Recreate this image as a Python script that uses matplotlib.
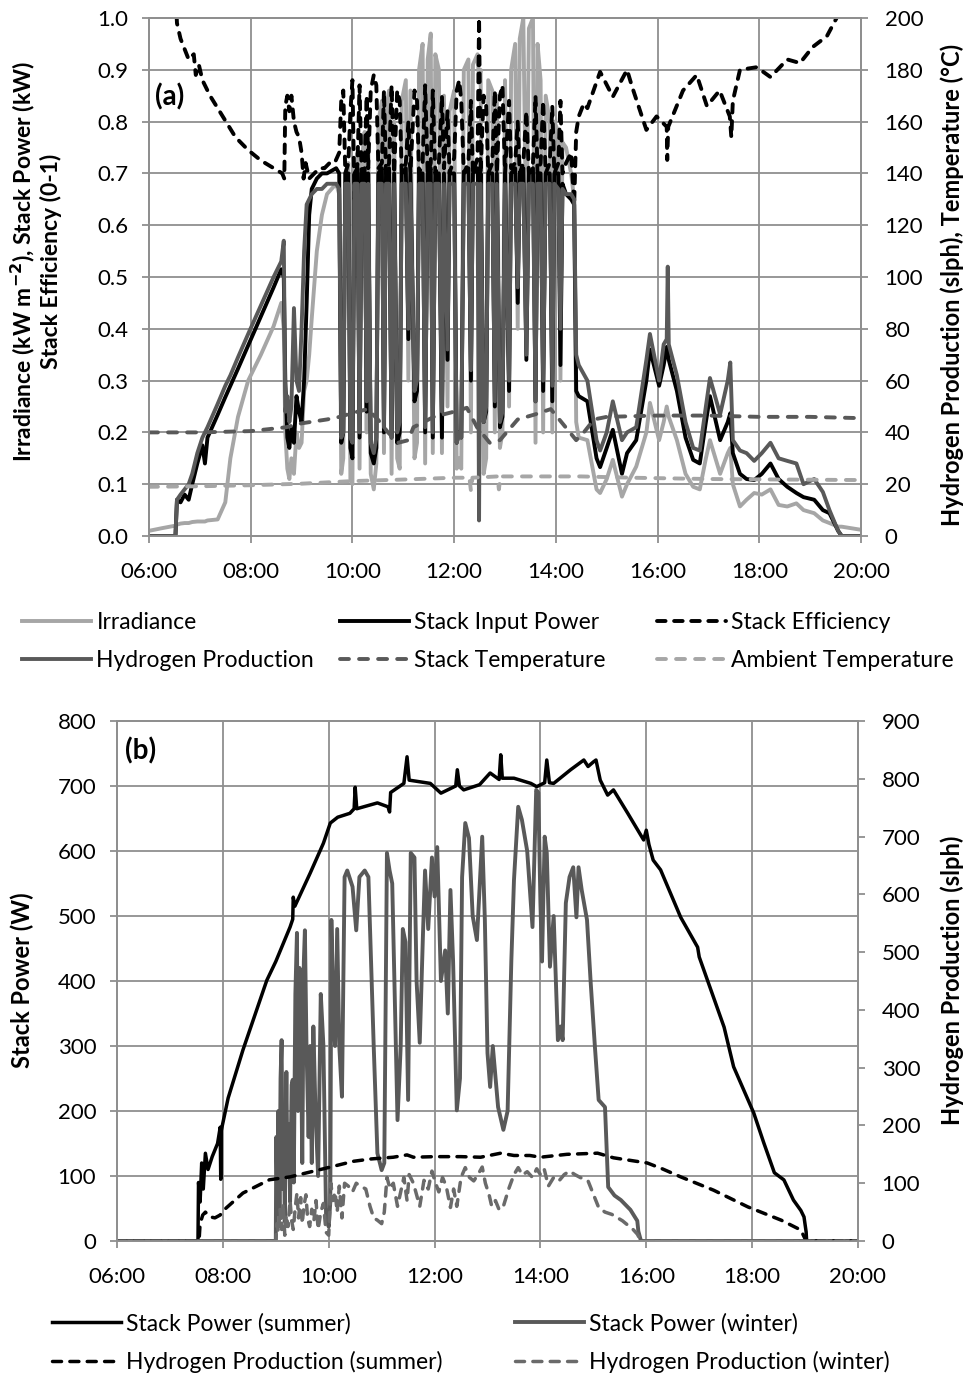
import matplotlib
matplotlib.use('Agg')
import matplotlib.pyplot as plt

plt.rcParams['font.family'] = ['Lato', 'DejaVu Sans']

GRID = '#8f8f8f'
LIGHT = '#a6a6a6'
DARK = '#595959'
WINTER_H2 = '#6a6a6a'

hour_ticks = [6, 8, 10, 12, 14, 16, 18, 20]
hour_labels = ['06:00', '08:00', '10:00', '12:00', '14:00', '16:00', '18:00', '20:00']

# ---------------- (a) one day, irradiance / power / hydrogen (decimal hours)
t_a = [6.00, 6.25, 6.52, 6.55, 6.62, 6.70, 6.78, 6.85, 6.95, 7.05,
       7.10, 7.15, 7.35, 7.50, 7.60, 7.75, 7.95, 8.20, 8.45, 8.60,
       8.65, 8.68, 8.72, 8.76, 8.80, 8.85, 8.90, 8.95, 9.00, 9.05,
       9.10, 9.15, 9.20, 9.30, 9.40, 9.50, 9.68, 9.74, 9.78, 9.82,
       9.86, 9.92, 9.96, 10.00, 10.04, 10.10, 10.14, 10.18, 10.24, 10.28,
       10.31, 10.36, 10.42, 10.47, 10.51, 10.58, 10.62, 10.66, 10.72, 10.77,
       10.82, 10.88, 10.93, 10.97, 11.05, 11.10, 11.14, 11.22, 11.27, 11.31,
       11.38, 11.43, 11.48, 11.54, 11.58, 11.63, 11.70, 11.76, 11.80, 11.87,
       11.91, 12.00, 12.05, 12.10, 12.14, 12.19, 12.28, 12.33, 12.37, 12.46,
       12.49, 12.52, 12.58, 12.63, 12.67, 12.75, 12.80, 12.84, 12.90, 12.95,
       13.00, 13.08, 13.12, 13.20, 13.25, 13.29, 13.36, 13.42, 13.47, 13.55,
       13.60, 13.64, 13.70, 13.75, 13.80, 13.88, 13.93, 13.97, 14.05, 14.09,
       14.13, 14.20, 14.30, 14.36, 14.40, 14.45, 14.62, 14.80, 14.87, 15.00,
       15.12, 15.30, 15.40, 15.58, 15.78, 15.85, 16.03, 16.12, 16.18, 16.20,
       16.22, 16.38, 16.55, 16.70, 16.83, 16.95, 17.03, 17.23, 17.38, 17.43,
       17.48, 17.62, 17.75, 17.90, 18.05, 18.22, 18.38, 18.55, 18.73, 18.87,
       19.08, 19.25, 19.38, 19.55, 19.62, 20.00]
irradiance = [0.010, 0.015, 0.020, 0.022, 0.024, 0.025, 0.025, 0.027, 0.028, 0.028,
              0.028, 0.030, 0.032, 0.065, 0.150, 0.230, 0.300, 0.350, 0.405, 0.450,
              0.400, 0.200, 0.130, 0.110, 0.150, 0.120, 0.200, 0.170, 0.180, 0.280,
              0.300, 0.350, 0.420, 0.550, 0.620, 0.660, 0.680, 0.660, 0.120, 0.150,
              0.700, 0.720, 0.110, 0.100, 0.700, 0.740, 0.130, 0.720, 0.780, 0.200,
              0.780, 0.120, 0.090, 0.140, 0.800, 0.840, 0.160, 0.820, 0.860, 0.120,
              0.800, 0.150, 0.130, 0.840, 0.880, 0.300, 0.860, 0.150, 0.180, 0.900,
              0.950, 0.140, 0.920, 0.970, 0.160, 0.930, 0.900, 0.160, 0.850, 0.250,
              0.820, 0.860, 0.130, 0.150, 0.130, 0.900, 0.920, 0.200, 0.910, 0.930,
              0.880, 0.900, 0.120, 0.150, 0.880, 0.860, 0.200, 0.850, 0.170, 0.200,
              0.880, 0.250, 0.900, 0.950, 0.400, 0.960, 1.000, 0.550, 0.980, 1.000,
              0.180, 0.950, 0.880, 0.200, 0.850, 0.800, 0.200, 0.800, 0.780, 0.300,
              0.760, 0.750, 0.700, 0.650, 0.220, 0.190, 0.185, 0.090, 0.083, 0.110,
              0.147, 0.076, 0.100, 0.134, 0.200, 0.257, 0.185, 0.220, 0.250, 0.240,
              0.230, 0.185, 0.120, 0.095, 0.090, 0.150, 0.185, 0.120, 0.160, 0.170,
              0.100, 0.057, 0.070, 0.083, 0.080, 0.090, 0.060, 0.057, 0.063, 0.050,
              0.044, 0.030, 0.025, 0.018, 0.018, 0.012]
stack_power = [0.000, 0.000, 0.000, 0.070, 0.065, 0.080, 0.070, 0.100, 0.140, 0.175,
               0.140, 0.190, 0.234, 0.268, 0.290, 0.323, 0.368, 0.424, 0.480, 0.515,
               0.500, 0.300, 0.190, 0.170, 0.210, 0.180, 0.270, 0.240, 0.220, 0.300,
               0.450, 0.620, 0.670, 0.690, 0.700, 0.700, 0.710, 0.700, 0.180, 0.200,
               0.700, 0.700, 0.170, 0.150, 0.700, 0.710, 0.190, 0.700, 0.710, 0.240,
               0.700, 0.160, 0.140, 0.170, 0.700, 0.710, 0.200, 0.700, 0.710, 0.190,
               0.700, 0.180, 0.200, 0.700, 0.710, 0.380, 0.700, 0.260, 0.280, 0.700,
               0.700, 0.200, 0.700, 0.710, 0.190, 0.700, 0.700, 0.190, 0.700, 0.340,
               0.700, 0.700, 0.180, 0.200, 0.190, 0.700, 0.710, 0.300, 0.700, 0.710,
               0.600, 0.700, 0.220, 0.240, 0.700, 0.700, 0.250, 0.700, 0.210, 0.230,
               0.700, 0.280, 0.700, 0.710, 0.450, 0.700, 0.710, 0.340, 0.700, 0.710,
               0.260, 0.700, 0.700, 0.280, 0.700, 0.700, 0.260, 0.700, 0.700, 0.330,
               0.680, 0.660, 0.650, 0.640, 0.280, 0.270, 0.260, 0.150, 0.133, 0.170,
               0.205, 0.120, 0.160, 0.185, 0.300, 0.360, 0.290, 0.330, 0.365, 0.360,
               0.340, 0.280, 0.190, 0.147, 0.140, 0.220, 0.270, 0.185, 0.220, 0.237,
               0.160, 0.120, 0.110, 0.108, 0.120, 0.140, 0.110, 0.095, 0.083, 0.075,
               0.070, 0.050, 0.044, 0.010, 0.000, 0.000]
# hydrogen in slph (secondary axis, 0-200)
h2_a = [0, 0, 0, 14, 16, 18, 20, 24, 32, 38,
        40, 42, 51, 58, 62, 69, 78, 89, 100, 106,
        114, 48, 54, 44, 50, 88, 60, 56, 80, 110,
        128, 130, 132, 134, 134, 136, 136, 134, 38, 40,
        136, 136, 38, 36, 136, 136, 40, 136, 136, 52,
        136, 36, 32, 38, 136, 136, 42, 136, 136, 38,
        136, 40, 44, 136, 136, 80, 136, 56, 60, 136,
        136, 42, 136, 136, 40, 136, 136, 48, 136, 72,
        136, 136, 36, 40, 38, 136, 136, 64, 136, 136,
        6, 136, 44, 50, 136, 136, 52, 136, 44, 48,
        136, 60, 136, 136, 96, 136, 136, 70, 136, 136,
        52, 136, 136, 60, 136, 136, 58, 136, 134, 80,
        134, 132, 132, 130, 70, 66, 60, 37, 33, 40,
        52, 37, 40, 42, 68, 78, 60, 74, 76, 104,
        74, 62, 44, 34, 33, 50, 61, 47, 60, 67,
        37, 33, 32, 29, 32, 36, 30, 29, 28, 20,
        22, 17, 10, 2, 0, 0]

t_eff = [6.52, 6.55, 6.62, 6.70, 6.78, 6.88, 6.92, 6.98, 7.05, 7.20,
         7.45, 7.70, 7.95, 8.20, 8.45, 8.62, 8.66, 8.68, 8.72, 8.76,
         8.80, 8.85, 8.90, 8.95, 9.00, 9.04, 9.08, 9.15, 9.25, 9.35,
         9.45, 9.55, 9.65, 9.74, 9.78, 9.82, 9.86, 9.92, 9.96, 10.00,
         10.04, 10.10, 10.14, 10.18, 10.24, 10.28, 10.31, 10.36, 10.42, 10.47,
         10.51, 10.58, 10.62, 10.66, 10.72, 10.77, 10.82, 10.88, 10.93, 10.97,
         11.05, 11.10, 11.14, 11.22, 11.27, 11.31, 11.38, 11.43, 11.48, 11.54,
         11.58, 11.63, 11.70, 11.76, 11.80, 11.87, 11.91, 12.00, 12.05, 12.10,
         12.14, 12.19, 12.28, 12.33, 12.37, 12.46, 12.49, 12.52, 12.58, 12.63,
         12.67, 12.75, 12.80, 12.84, 12.90, 12.95, 13.00, 13.08, 13.12, 13.20,
         13.25, 13.29, 13.36, 13.42, 13.47, 13.55, 13.60, 13.64, 13.70, 13.75,
         13.80, 13.88, 13.93, 13.97, 14.05, 14.09, 14.13, 14.20, 14.30, 14.36,
         14.40, 14.45, 14.55, 14.62, 14.87, 15.12, 15.40, 15.50, 15.78, 15.98,
         16.18, 16.19, 16.21, 16.50, 16.77, 16.97, 17.22, 17.42, 17.45, 17.48,
         17.62, 17.95, 18.22, 18.55, 18.80, 19.05, 19.33, 19.52, 19.60]
efficiency = [1.05, 0.99, 0.96, 0.94, 0.92, 0.93, 0.89, 0.91, 0.88, 0.85,
              0.81, 0.77, 0.745, 0.725, 0.71, 0.70, 0.69, 0.83, 0.85, 0.82,
              0.85, 0.80, 0.78, 0.77, 0.74, 0.69, 0.72, 0.69, 0.70, 0.71,
              0.71, 0.72, 0.72, 0.74, 0.84, 0.86, 0.70, 0.72, 0.82, 0.88,
              0.65, 0.72, 0.87, 0.70, 0.72, 0.85, 0.71, 0.86, 0.89, 0.87,
              0.71, 0.72, 0.86, 0.70, 0.72, 0.87, 0.70, 0.86, 0.84, 0.70,
              0.72, 0.80, 0.70, 0.86, 0.84, 0.70, 0.72, 0.87, 0.70, 0.72,
              0.86, 0.70, 0.72, 0.85, 0.71, 0.82, 0.70, 0.73, 0.86, 0.88,
              0.84, 0.70, 0.72, 0.84, 0.70, 0.73, 1.00, 0.70, 0.85, 0.83,
              0.70, 0.72, 0.86, 0.70, 0.85, 0.87, 0.70, 0.84, 0.71, 0.72,
              0.80, 0.70, 0.72, 0.82, 0.70, 0.72, 0.85, 0.70, 0.72, 0.84,
              0.70, 0.72, 0.83, 0.70, 0.72, 0.84, 0.70, 0.72, 0.74, 0.64,
              0.78, 0.81, 0.835, 0.826, 0.896, 0.848, 0.90, 0.867, 0.784, 0.81,
              0.79, 0.726, 0.79, 0.86, 0.89, 0.83, 0.86, 0.81, 0.77, 0.84,
              0.90, 0.905, 0.886, 0.92, 0.913, 0.944, 0.965, 1.00, 1.05]

t_stack = [6.00, 7.00, 8.00, 8.70, 9.00, 9.50, 9.75, 10.00, 10.30, 10.50,
           10.70, 10.90, 11.10, 11.20, 11.60, 12.00, 12.25, 12.45, 12.70, 12.90,
           13.25, 13.60, 13.90, 14.15, 14.40, 14.55, 14.75, 15.00, 16.00, 17.00,
           18.00, 19.00, 20.00]
stack_temp = [40, 40, 40.5, 42, 43.5, 45, 46, 47.5, 49, 45,
              40, 36, 37, 42, 46, 48, 49.5, 42, 36, 37,
              45, 47, 49, 43, 37, 40, 45, 46, 46.5, 46.5,
              46, 46, 45.5]

t_amb = [6.00, 7.00, 8.00, 9.00, 10.00, 11.00, 12.00, 12.30, 12.33, 12.36,
         12.85, 12.88, 12.91, 13.50, 14.50, 15.50, 17.00, 18.50, 20.00]
ambient_temp = [19, 19.2, 19.6, 20.2, 21.2, 21.8, 22.5, 22.5, 17.5, 22.5,
                23, 18, 23, 23, 23, 22.5, 22, 21.8, 21.6]

# ---------------- (b) summer vs winter
t_ps = [6.00, 7.53, 7.54, 7.57, 7.60, 7.63, 7.67, 7.72, 7.80, 7.90,
        7.95, 7.96, 7.97, 8.10, 8.38, 8.83, 9.00, 9.27, 9.32, 9.33,
        9.36, 9.65, 9.90, 10.03, 10.17, 10.40, 10.48, 10.50, 10.53, 10.92,
        11.12, 11.15, 11.17, 11.42, 11.48, 11.52, 11.92, 12.12, 12.40, 12.43,
        12.47, 12.55, 12.85, 13.05, 13.22, 13.25, 13.28, 13.50, 13.82, 13.93,
        14.08, 14.12, 14.17, 14.25, 14.57, 14.82, 14.90, 15.00, 15.05, 15.13,
        15.27, 15.38, 15.65, 15.95, 16.00, 16.05, 16.13, 16.27, 16.65, 16.97,
        17.00, 17.47, 17.65, 18.03, 18.22, 18.42, 18.60, 18.78, 18.92, 18.98,
        19.02, 19.03, 20.00]
power_summer = [0, 0, 90, 60, 120, 80, 135, 110, 130, 150,
                175, 95, 170, 220, 294, 401, 430, 483, 495, 529,
                515, 566, 612, 643, 652, 658, 665, 698, 665, 674,
                668, 660, 690, 704, 745, 709, 704, 689, 700, 725,
                700, 694, 702, 720, 710, 748, 712, 712, 704, 699,
                705, 740, 705, 704, 725, 740, 730, 737, 740, 709,
                686, 694, 658, 617, 632, 610, 586, 571, 498, 452,
                437, 329, 268, 197, 151, 105, 94, 63, 47, 37,
                14, 0, 0]

t_hs = [6.00, 7.55, 7.57, 7.62, 7.67, 7.75, 7.85, 7.95, 8.00, 8.38,
        8.88, 9.27, 9.90, 10.47, 10.80, 11.22, 11.48, 11.60, 12.00, 12.50,
        12.87, 13.25, 13.50, 13.80, 14.00, 14.50, 15.08, 15.38, 16.02, 16.30,
        16.65, 17.27, 17.92, 18.55, 18.92, 19.02, 20.00]
h2_summer = [0, 0, 30, 45, 50, 42, 40, 45, 52, 83,
             106, 111, 125, 138, 142, 145, 149, 145, 146, 146,
             145, 152, 148, 148, 145, 150, 152, 144, 135, 125,
             111, 88, 59, 36, 19, 0, 0]

t_pw = [6.00, 9.00, 9.01, 9.03, 9.05, 9.07, 9.09, 9.11, 9.13, 9.15,
        9.17, 9.20, 9.22, 9.25, 9.27, 9.30, 9.32, 9.34, 9.37, 9.40,
        9.42, 9.45, 9.47, 9.50, 9.53, 9.55, 9.58, 9.62, 9.65, 9.68,
        9.71, 9.75, 9.80, 9.85, 9.90, 9.95, 10.00, 10.03, 10.05, 10.09,
        10.12, 10.16, 10.20, 10.25, 10.30, 10.35, 10.45, 10.52, 10.58, 10.68,
        10.75, 10.85, 10.92, 11.00, 11.05, 11.10, 11.15, 11.20, 11.30, 11.36,
        11.40, 11.45, 11.50, 11.55, 11.62, 11.66, 11.72, 11.78, 11.82, 11.88,
        11.95, 12.00, 12.05, 12.12, 12.20, 12.25, 12.30, 12.35, 12.42, 12.48,
        12.52, 12.58, 12.65, 12.72, 12.80, 12.86, 12.90, 12.95, 13.00, 13.05,
        13.10, 13.20, 13.30, 13.38, 13.45, 13.50, 13.58, 13.65, 13.75, 13.85,
        13.92, 13.96, 14.00, 14.03, 14.08, 14.12, 14.18, 14.25, 14.33, 14.38,
        14.42, 14.48, 14.55, 14.62, 14.68, 14.72, 14.78, 14.88, 14.95, 15.03,
        15.10, 15.22, 15.28, 15.40, 15.52, 15.70, 15.83, 15.85, 15.90, 20.00]
power_winter = [0, 0, 160, 60, 200, 40, 250, 309, 80, 200,
                30, 260, 100, 180, 60, 240, 248, 90, 380, 474,
                200, 420, 360, 120, 430, 478, 300, 160, 300, 120,
                330, 200, 100, 380, 300, 40, 22, 60, 494, 350,
                300, 480, 300, 222, 560, 570, 545, 478, 560, 570,
                560, 300, 135, 109, 120, 597, 570, 550, 186, 300,
                480, 460, 217, 597, 590, 400, 305, 470, 570, 480,
                590, 530, 606, 400, 447, 350, 540, 430, 201, 250,
                560, 643, 620, 500, 463, 560, 622, 494, 289, 237,
                300, 206, 171, 200, 430, 555, 668, 648, 600, 483,
                694, 690, 520, 430, 622, 597, 422, 500, 309, 330,
                309, 520, 560, 575, 498, 575, 540, 494, 397, 298,
                217, 206, 83, 70, 63, 48, 31, 15, 0, 0]

t_hw = [6.00, 9.00, 9.02, 9.05, 9.08, 9.11, 9.14, 9.17, 9.20, 9.23,
        9.27, 9.30, 9.33, 9.37, 9.40, 9.43, 9.47, 9.50, 9.53, 9.57,
        9.60, 9.64, 9.68, 9.72, 9.76, 9.80, 9.85, 9.90, 9.95, 10.00,
        10.04, 10.08, 10.12, 10.16, 10.20, 10.25, 10.30, 10.37, 10.45, 10.52,
        10.60, 10.70, 10.78, 10.85, 10.92, 11.00, 11.05, 11.10, 11.16, 11.22,
        11.30, 11.36, 11.42, 11.48, 11.52, 11.60, 11.66, 11.72, 11.80, 11.88,
        11.95, 12.02, 12.08, 12.15, 12.22, 12.30, 12.36, 12.42, 12.50, 12.58,
        12.66, 12.74, 12.82, 12.90, 12.96, 13.03, 13.08, 13.15, 13.22, 13.30,
        13.40, 13.50, 13.58, 13.66, 13.75, 13.85, 13.93, 14.00, 14.07, 14.15,
        14.25, 14.35, 14.45, 14.55, 14.65, 14.75, 14.90, 15.00, 15.10, 15.22,
        15.35, 15.55, 15.75, 15.83, 15.90, 20.00]
h2_winter = [0, 0, 30, 15, 55, 20, 65, 10, 45, 25,
             70, 35, 20, 60, 83, 40, 75, 30, 60, 80,
             40, 25, 55, 35, 70, 20, 50, 65, 15, 10,
             100, 70, 85, 50, 95, 40, 100, 95, 85, 100,
             95, 90, 60, 40, 36, 30, 50, 110, 90, 100,
             60, 85, 110, 70, 115, 100, 80, 60, 105, 90,
             121, 100, 85, 110, 95, 58, 90, 60, 110, 127,
             110, 104, 115, 128, 100, 80, 60, 70, 54, 60,
             90, 115, 127, 114, 120, 110, 125, 115, 125, 95,
             110, 104, 115, 121, 115, 110, 104, 81, 58, 50,
             46, 35, 20, 12, 0, 0]


def style(ax, ax2):
    for a in (ax, ax2):
        for s in a.spines.values():
            s.set_color(GRID)
            s.set_linewidth(1.3)
        a.tick_params(colors=GRID, labelcolor='black', labelsize=16,
                      length=5, width=1.3, direction='out')
    ax.tick_params(axis='y', pad=10)
    ax2.tick_params(axis='y', pad=12)
    ax.tick_params(axis='x', pad=14)
    ax.grid(True, color=GRID, linewidth=1.3)
    ax.set_axisbelow(True)
    ax.set_xlim(6, 20)
    ax.set_xticks(hour_ticks)
    ax.set_xticklabels(hour_labels)


fig = plt.figure(figsize=(9.66, 13.8), dpi=100)

# ---- panel (a)
ax = fig.add_axes([149 / 966, 1 - 536 / 1380, 712 / 966, 518 / 1380])
ax2 = ax.twinx()
lw = 2.8
l_irr, = ax.plot(t_a, irradiance, color=LIGHT, lw=lw, label='Irradiance')
l_pw, = ax.plot(t_a, stack_power, color='black', lw=lw, label='Stack Input Power')
l_eff, = ax.plot(t_eff, efficiency, color='black', lw=lw, dashes=(2.2, 2.2),
                 dash_capstyle='round', label='Stack Efficiency')
l_h2, = ax2.plot(t_a, h2_a, color=DARK, lw=lw, label='Hydrogen Production')
l_st, = ax2.plot(t_stack, stack_temp, color=DARK, lw=lw, dashes=(2.3, 2.6),
                 dash_capstyle='round', label='Stack Temperature')
l_am, = ax2.plot(t_amb, ambient_temp, color=LIGHT, lw=lw, dashes=(2.3, 2.6),
                 dash_capstyle='round', label='Ambient Temperature')
style(ax, ax2)
ax.set_ylim(0, 1.0)
ax.set_yticks([i / 10 for i in range(11)])
ax.set_yticklabels(['%.1f' % (i / 10) for i in range(11)])
ax2.set_ylim(0, 200)
ax2.set_yticks(range(0, 201, 20))
ax.set_ylabel('Irradiance (kW m$^{\\mathbf{-2}}$), Stack Power (kW)\nStack Efficiency (0-1)',
              fontsize=16.5, fontweight='bold', linespacing=1.15)
ax.yaxis.set_label_coords(-0.122, 0.53)
ax2.set_ylabel('Hydrogen Production (slph), Temperature (\u00b0C)',
               fontsize=17, fontweight='bold', rotation=90)
ax2.yaxis.set_label_coords(1.112, 0.485)
ax.text(0.008, 0.848, '(a)', transform=ax.transAxes, fontsize=20,
        fontweight='bold', ha='left', va='center')

leg_kw = dict(frameon=False, fontsize=16.5, handlelength=3.0, handletextpad=0.25,
              borderpad=0, borderaxespad=0, labelspacing=0.75, loc='center left')
cols_a = [([l_irr, l_h2], 22), ([l_pw, l_st], 340), ([l_eff, l_am], 657)]
for handles, xpix in cols_a:
    fig.legend(handles=handles, bbox_to_anchor=(xpix / 966, 1 - 641.5 / 1380), **leg_kw)

# ---- panel (b)
bx = fig.add_axes([117 / 966, 1 - 1241 / 1380, 741 / 966, 520 / 1380])
bx2 = bx.twinx()
lwb = 2.5
m_ps, = bx.plot(t_ps, power_summer, color='black', lw=lwb, label='Stack Power (summer)')
m_pw, = bx.plot(t_pw, power_winter, color=DARK, lw=lwb + 0.3, label='Stack Power (winter)')
m_hs, = bx2.plot(t_hs, h2_summer, color='black', lw=lwb, dashes=(2.6, 2.4),
                 dash_capstyle='round', label='Hydrogen Production (summer)')
m_hw, = bx2.plot(t_hw, h2_winter, color=WINTER_H2, lw=lwb, dashes=(2.6, 2.4),
                 dash_capstyle='round', label='Hydrogen Production (winter)')
style(bx, bx2)
bx.set_ylim(0, 800)
bx.set_yticks(range(0, 801, 100))
bx2.set_ylim(0, 900)
bx2.set_yticks(range(0, 901, 100))
bx.set_ylabel('Stack Power (W)', fontsize=17, fontweight='bold')
bx.yaxis.set_label_coords(-0.112, 0.502)
bx2.set_ylabel('Hydrogen Production (slph)', fontsize=17, fontweight='bold', rotation=90)
bx2.yaxis.set_label_coords(1.111, 0.502)
bx.text(0.011, 0.943, '(b)', transform=bx.transAxes, fontsize=20,
        fontweight='bold', ha='left', va='center')

cols_b = [([m_ps, m_hs], 52), ([m_pw, m_hw], 515)]
for handles, xpix in cols_b:
    fig.legend(handles=handles, bbox_to_anchor=(xpix / 966, 1 - 1343 / 1380), **leg_kw)

fig.savefig('out.png', dpi=100)
